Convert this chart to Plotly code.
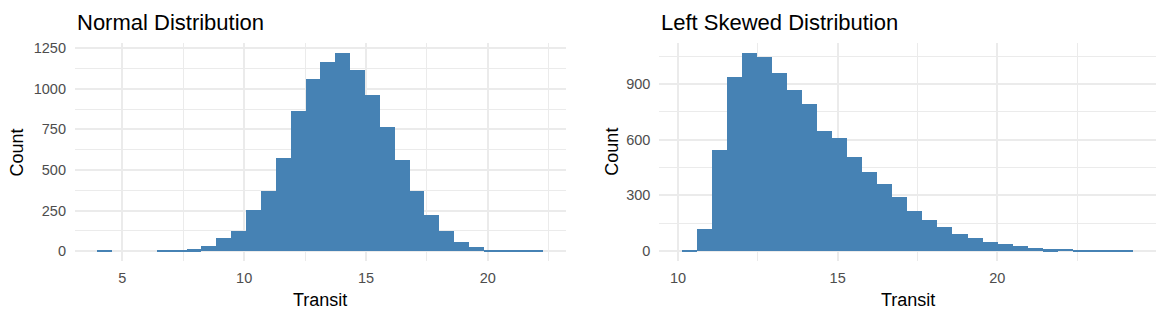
import plotly.graph_objects as go

# ---- data ----
normal_bin_start = 3.974
normal_bin_width = 0.6102
normal_counts = [4, 0, 0, 0, 3, 6, 10, 30, 78, 125, 251, 372, 576, 866, 1058,
                 1168, 1221, 1117, 960, 764, 562, 372, 225, 125, 55, 27, 8, 4, 3, 2]

skew_bin_start = 10.125
skew_bin_width = 0.4712
skew_counts = [7, 117, 545, 939, 1067, 1047, 959, 869, 792, 649, 611, 506, 428, 362,
               292, 215, 170, 129, 93, 68, 50, 36, 25, 16, 9, 13, 5, 4, 3, 2]

titles = ["Normal Distribution", "Left Skewed Distribution"]
x_label = "Transit"
y_label = "Count"

# ---- figure ----
W, H = 1164, 318
ML, MR, MT, MB = 75, 8.3, 42.5, 56.8
PW = W - ML - MR
PH = H - MT - MB

def px_x(p):
    return (p - ML) / PW

def px_y(p):
    return (H - MB - p) / PH

FILL = "#4682B4"
GRID = "#EBEBEB"
TICKC = "#4D4D4D"
FONT = "Liberation Sans, Arial, Helvetica, sans-serif"

def centers(start, width, n):
    return [start + width * (i + 0.5) for i in range(n)]

def expand(lo, hi, f=0.05):
    d = (hi - lo) * f
    return [lo - d, hi + d]

fig = go.Figure()
fig.add_trace(go.Bar(
    x=centers(normal_bin_start, normal_bin_width, len(normal_counts)),
    y=normal_counts, width=normal_bin_width,
    marker=dict(color=FILL, line=dict(width=0)),
    xaxis="x", yaxis="y", showlegend=False, hoverinfo="x+y"))
fig.add_trace(go.Bar(
    x=centers(skew_bin_start, skew_bin_width, len(skew_counts)),
    y=skew_counts, width=skew_bin_width,
    marker=dict(color=FILL, line=dict(width=0)),
    xaxis="x2", yaxis="y2", showlegend=False, hoverinfo="x+y"))

d1 = [0, px_x(565.6)]
d2 = [px_x(659.2), 1]

def axis(domain, rng, dtick, mdtick, anchor, standoff):
    return dict(domain=domain, range=rng, dtick=dtick, tick0=0,
                showgrid=True, gridcolor=GRID, gridwidth=1.7,
                minor=dict(dtick=mdtick, tick0=0, showgrid=True, gridcolor=GRID, gridwidth=0.85),
                zeroline=False, showline=False, ticks="",
                tickfont=dict(size=14.5, color=TICKC, family=FONT),
                ticklabelstandoff=standoff, anchor=anchor, fixedrange=True)

n_x = expand(normal_bin_start, normal_bin_start + normal_bin_width * len(normal_counts))
s_x = expand(skew_bin_start, skew_bin_start + skew_bin_width * len(skew_counts))
n_y = expand(0, max(normal_counts))
s_y = expand(0, max(skew_counts))

fig.update_layout(
    width=W, height=H,
    margin=dict(l=ML, r=MR, t=MT, b=MB, pad=0),
    paper_bgcolor="white", plot_bgcolor="white",
    bargap=0,
    font=dict(family=FONT),
    xaxis=axis(d1, n_x, 5, 2.5, "y", 6),
    yaxis=axis([0, 1], n_y, 250, 125, "x", 8),
    xaxis2=axis(d2, s_x, 5, 2.5, "y2", 6),
    yaxis2=axis([0, 1], s_y, 300, 150, "x2", 8),
)

ann = []
for dom, t in zip([d1, d2], titles):
    ann.append(dict(text=t, x=dom[0], y=px_y(21.5), xref="paper", yref="paper",
                    xanchor="left", yanchor="middle", showarrow=False,
                    font=dict(size=22, color="black", family=FONT)))
    ann.append(dict(text=x_label, x=(dom[0] + dom[1]) / 2, y=px_y(300), xref="paper", yref="paper",
                    xanchor="center", yanchor="middle", showarrow=False,
                    font=dict(size=18, color="black", family=FONT)))
for cx in [17.5, 611.5]:
    ann.append(dict(text=y_label, x=px_x(cx), y=0.5, xref="paper", yref="paper",
                    xanchor="center", yanchor="middle", showarrow=False, textangle=-90,
                    font=dict(size=18, color="black", family=FONT)))
fig.update_layout(annotations=ann)

fig.write_html("out.html", config={"displayModeBar": False})
